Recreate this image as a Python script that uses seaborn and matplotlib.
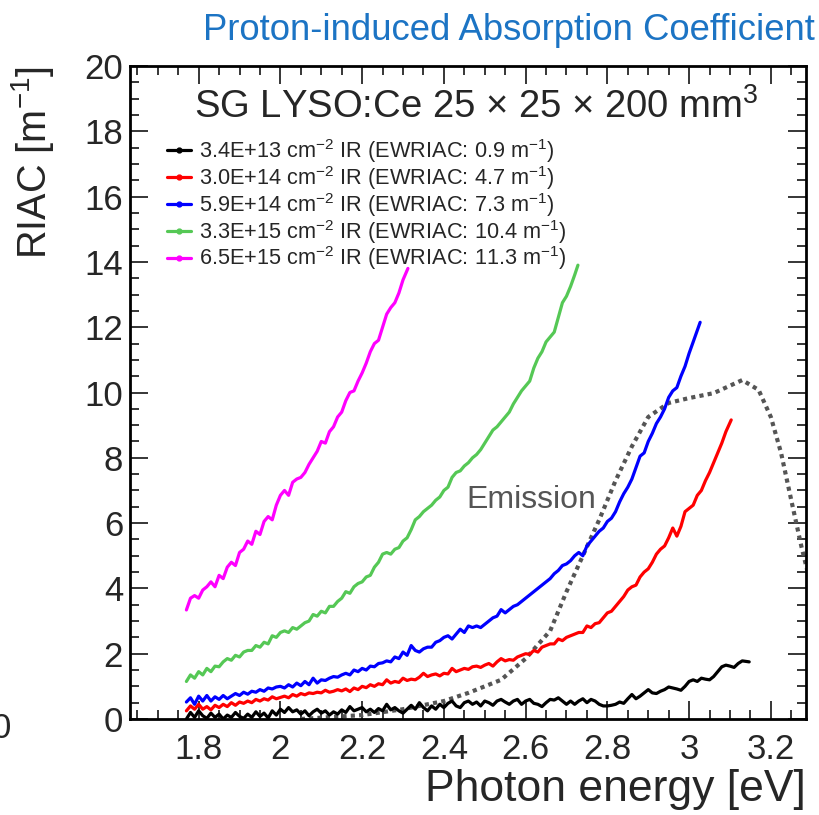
import numpy as np
import pandas as pd
import seaborn as sns
import matplotlib
matplotlib.use("Agg")
import matplotlib.pyplot as plt
from matplotlib.lines import Line2D
from matplotlib.ticker import MultipleLocator

# ---- data -------------------------------------------------------------
series_names = ["3.4E+13", "3.0E+14", "5.9E+14", "3.3E+15", "6.5E+15"]
ewriac = ["0.9", "4.7", "7.3", "10.4", "11.3"]
series_colors = ["#000000", "#ff0000", "#0000ff", "#55c855", "#ff00ff"]

e_black = [1.770, 1.780, 1.790, 1.800, 1.810, 1.820, 1.830, 1.840, 1.850, 1.860,
           1.870, 1.880, 1.890, 1.900, 1.910, 1.920, 1.930, 1.940, 1.950, 1.960,
           1.970, 1.980, 1.990, 2.000, 2.010, 2.020, 2.030, 2.040, 2.050, 2.060,
           2.070, 2.080, 2.090, 2.100, 2.110, 2.120, 2.130, 2.140, 2.150, 2.160,
           2.170, 2.180, 2.190, 2.200, 2.210, 2.220, 2.230, 2.240, 2.250, 2.260,
           2.270, 2.280, 2.290, 2.300, 2.310, 2.320, 2.330, 2.340, 2.350, 2.360,
           2.370, 2.380, 2.390, 2.400, 2.410, 2.420, 2.430, 2.440, 2.450, 2.460,
           2.470, 2.480, 2.490, 2.500, 2.510, 2.520, 2.530, 2.540, 2.550, 2.560,
           2.570, 2.580, 2.590, 2.600, 2.610, 2.620, 2.630, 2.640, 2.650, 2.660,
           2.670, 2.680, 2.690, 2.700, 2.710, 2.720, 2.730, 2.740, 2.750, 2.760,
           2.770, 2.780, 2.790, 2.800, 2.810, 2.820, 2.830, 2.840, 2.850, 2.860,
           2.870, 2.880, 2.890, 2.900, 2.910, 2.920, 2.930, 2.940, 2.950, 2.960,
           2.970, 2.980, 2.990, 3.000, 3.010, 3.020, 3.030, 3.040, 3.050, 3.060,
           3.070, 3.080, 3.090, 3.100, 3.110, 3.120, 3.130, 3.147]
riac_black = [0.00, 0.20, 0.05, 0.25, 0.10, 0.02, 0.18, 0.05, 0.15, 0.00,
              0.12, 0.05, 0.20, 0.08, 0.02, 0.15, 0.05, 0.22, 0.08, 0.18,
              0.03, 0.25, 0.12, 0.30, 0.20, 0.35, 0.22, 0.28, 0.15, 0.25,
              0.10, 0.22, 0.30, 0.18, 0.25, 0.12, 0.22, 0.15, 0.28, 0.20,
              0.38, 0.25, 0.30, 0.35, 0.22, 0.30, 0.20, 0.32, 0.25, 0.45,
              0.28, 0.35, 0.25, 0.18, 0.30, 0.42, 0.30, 0.50, 0.35, 0.25,
              0.40, 0.30, 0.45, 0.35, 0.48, 0.55, 0.40, 0.35, 0.50, 0.55,
              0.45, 0.52, 0.40, 0.55, 0.50, 0.42, 0.55, 0.60, 0.52, 0.45,
              0.55, 0.60, 0.45, 0.55, 0.60, 0.48, 0.45, 0.38, 0.50, 0.60,
              0.58, 0.65, 0.55, 0.45, 0.55, 0.45, 0.55, 0.62, 0.50, 0.60,
              0.55, 0.45, 0.40, 0.40, 0.42, 0.45, 0.52, 0.48, 0.62, 0.75,
              0.62, 0.70, 0.80, 0.90, 0.80, 0.78, 0.85, 0.90, 0.98, 0.95,
              0.92, 0.88, 1.00, 1.15, 1.20, 1.15, 1.25, 1.22, 1.20, 1.30,
              1.45, 1.60, 1.65, 1.62, 1.58, 1.70, 1.78, 1.75]

e_red = [1.77, 1.78, 1.79, 1.80, 1.81, 1.82, 1.83, 1.84, 1.85, 1.86,
         1.87, 1.88, 1.89, 1.90, 1.91, 1.92, 1.93, 1.94, 1.95, 1.96,
         1.97, 1.98, 1.99, 2.00, 2.01, 2.02, 2.03, 2.04, 2.05, 2.06,
         2.07, 2.08, 2.09, 2.10, 2.11, 2.12, 2.13, 2.14, 2.15, 2.16,
         2.17, 2.18, 2.19, 2.20, 2.21, 2.22, 2.23, 2.24, 2.25, 2.26,
         2.27, 2.28, 2.29, 2.30, 2.31, 2.32, 2.33, 2.34, 2.35, 2.36,
         2.37, 2.38, 2.39, 2.40, 2.41, 2.42, 2.43, 2.44, 2.45, 2.46,
         2.47, 2.48, 2.49, 2.50, 2.51, 2.52, 2.53, 2.54, 2.55, 2.56,
         2.57, 2.58, 2.59, 2.60, 2.61, 2.62, 2.63, 2.64, 2.65, 2.66,
         2.67, 2.68, 2.69, 2.70, 2.71, 2.72, 2.73, 2.74, 2.75, 2.76,
         2.77, 2.78, 2.79, 2.80, 2.81, 2.82, 2.83, 2.84, 2.85, 2.86,
         2.87, 2.88, 2.89, 2.90, 2.91, 2.92, 2.93, 2.94, 2.95, 2.96,
         2.97, 2.98, 2.99, 3.00, 3.01, 3.02, 3.03, 3.04, 3.05, 3.06,
         3.07, 3.08, 3.09, 3.103]
riac_red = [0.25, 0.40, 0.30, 0.45, 0.30, 0.38, 0.28, 0.42, 0.35, 0.45,
            0.38, 0.50, 0.42, 0.52, 0.48, 0.55, 0.50, 0.60, 0.55, 0.62,
            0.58, 0.68, 0.62, 0.66, 0.70, 0.65, 0.75, 0.70, 0.78, 0.74,
            0.80, 0.78, 0.82, 0.80, 0.88, 0.82, 0.85, 0.90, 0.86, 0.92,
            0.84, 0.95, 0.90, 1.00, 0.96, 1.05, 1.00, 1.08, 1.05, 1.20,
            1.10, 1.15, 1.12, 1.25, 1.18, 1.22, 1.20, 1.28, 1.40, 1.30,
            1.35, 1.38, 1.32, 1.40, 1.38, 1.55, 1.45, 1.50, 1.55, 1.52,
            1.60, 1.62, 1.58, 1.65, 1.70, 1.62, 1.75, 1.85, 1.78, 1.82,
            1.80, 1.90, 1.95, 2.00, 1.98, 2.10, 2.05, 2.20, 2.25, 2.30,
            2.30, 2.45, 2.40, 2.50, 2.55, 2.60, 2.65, 2.65, 2.85, 2.80,
            2.92, 2.95, 3.10, 3.25, 3.30, 3.45, 3.60, 3.75, 3.95, 4.05,
            4.10, 4.35, 4.50, 4.60, 4.80, 5.05, 5.20, 5.30, 5.55, 5.85,
            5.60, 5.90, 6.35, 6.45, 6.55, 6.85, 7.00, 7.30, 7.55, 7.85,
            8.15, 8.45, 8.80, 9.16]

e_blue = [1.77, 1.78, 1.79, 1.80, 1.81, 1.82, 1.83, 1.84, 1.85, 1.86,
          1.87, 1.88, 1.89, 1.90, 1.91, 1.92, 1.93, 1.94, 1.95, 1.96,
          1.97, 1.98, 1.99, 2.00, 2.01, 2.02, 2.03, 2.04, 2.05, 2.06,
          2.07, 2.08, 2.09, 2.10, 2.11, 2.12, 2.13, 2.14, 2.15, 2.16,
          2.17, 2.18, 2.19, 2.20, 2.21, 2.22, 2.23, 2.24, 2.25, 2.26,
          2.27, 2.28, 2.29, 2.30, 2.31, 2.32, 2.33, 2.34, 2.35, 2.36,
          2.37, 2.38, 2.39, 2.40, 2.41, 2.42, 2.43, 2.44, 2.45, 2.46,
          2.47, 2.48, 2.49, 2.50, 2.51, 2.52, 2.53, 2.54, 2.55, 2.56,
          2.57, 2.58, 2.59, 2.60, 2.61, 2.62, 2.63, 2.64, 2.65, 2.66,
          2.67, 2.68, 2.69, 2.70, 2.71, 2.72, 2.73, 2.74, 2.75, 2.76,
          2.77, 2.78, 2.79, 2.80, 2.81, 2.82, 2.83, 2.84, 2.85, 2.86,
          2.87, 2.88, 2.89, 2.90, 2.91, 2.92, 2.93, 2.94, 2.95, 2.96,
          2.97, 2.98, 2.99, 3.00, 3.01, 3.027]
riac_blue = [0.52, 0.65, 0.45, 0.70, 0.55, 0.72, 0.55, 0.68, 0.60, 0.72,
             0.62, 0.70, 0.78, 0.72, 0.82, 0.76, 0.85, 0.82, 0.90, 0.85,
             0.95, 0.92, 0.98, 1.00, 0.95, 1.05, 0.98, 1.10, 1.02, 1.15,
             1.05, 1.25, 1.10, 1.20, 1.18, 1.25, 1.30, 1.28, 1.35, 1.40,
             1.35, 1.50, 1.45, 1.55, 1.50, 1.62, 1.60, 1.70, 1.72, 1.78,
             1.75, 1.90, 1.85, 2.05, 1.95, 2.25, 2.10, 2.05, 2.15, 2.20,
             2.20, 2.35, 2.40, 2.50, 2.55, 2.45, 2.60, 2.75, 2.65, 2.85,
             2.80, 2.85, 2.80, 2.90, 3.00, 3.10, 3.15, 3.35, 3.25, 3.35,
             3.45, 3.50, 3.60, 3.70, 3.80, 3.90, 4.00, 4.10, 4.20, 4.30,
             4.45, 4.55, 4.70, 4.75, 4.85, 5.00, 5.10, 5.00, 5.30, 5.45,
             5.60, 5.75, 5.85, 6.05, 6.15, 6.35, 6.65, 6.90, 7.10, 7.35,
             7.70, 8.05, 8.15, 8.50, 8.75, 9.05, 9.25, 9.50, 9.85, 10.05,
             10.15, 10.50, 10.80, 11.20, 11.55, 12.15]

e_green = [1.77, 1.78, 1.79, 1.80, 1.81, 1.82, 1.83, 1.84, 1.85, 1.86,
           1.87, 1.88, 1.89, 1.90, 1.91, 1.92, 1.93, 1.94, 1.95, 1.96,
           1.97, 1.98, 1.99, 2.00, 2.01, 2.02, 2.03, 2.04, 2.05, 2.06,
           2.07, 2.08, 2.09, 2.10, 2.11, 2.12, 2.13, 2.14, 2.15, 2.16,
           2.17, 2.18, 2.19, 2.20, 2.21, 2.22, 2.23, 2.24, 2.25, 2.26,
           2.27, 2.28, 2.29, 2.30, 2.31, 2.32, 2.33, 2.34, 2.35, 2.36,
           2.37, 2.38, 2.39, 2.40, 2.41, 2.42, 2.43, 2.44, 2.45, 2.46,
           2.47, 2.48, 2.49, 2.50, 2.51, 2.52, 2.53, 2.54, 2.55, 2.56,
           2.57, 2.58, 2.59, 2.60, 2.61, 2.62, 2.63, 2.64, 2.65, 2.66,
           2.67, 2.68, 2.69, 2.70, 2.71, 2.72, 2.728]
riac_green = [1.15, 1.35, 1.25, 1.45, 1.35, 1.55, 1.45, 1.62, 1.60, 1.75,
              1.85, 1.80, 1.95, 1.90, 2.05, 2.10, 2.10, 2.25, 2.20, 2.35,
              2.30, 2.55, 2.50, 2.65, 2.70, 2.65, 2.80, 2.75, 2.85, 2.95,
              3.00, 3.20, 3.15, 3.30, 3.25, 3.45, 3.45, 3.60, 3.70, 3.90,
              3.85, 4.05, 4.15, 4.20, 4.35, 4.40, 4.65, 4.80, 5.05, 5.10,
              5.05, 5.20, 5.25, 5.45, 5.55, 5.80, 6.10, 6.20, 6.35, 6.45,
              6.55, 6.70, 6.80, 7.00, 7.10, 7.40, 7.55, 7.60, 7.75, 7.85,
              8.00, 8.10, 8.25, 8.45, 8.65, 8.85, 8.95, 9.10, 9.25, 9.40,
              9.65, 9.85, 10.05, 10.20, 10.35, 10.75, 11.05, 11.25, 11.55, 11.70,
              11.85, 12.30, 12.75, 12.95, 13.25, 13.60, 13.90]

e_magenta = [1.770, 1.780, 1.790, 1.800, 1.810, 1.820, 1.830, 1.840, 1.850, 1.860,
             1.870, 1.880, 1.890, 1.900, 1.910, 1.920, 1.930, 1.940, 1.950, 1.960,
             1.970, 1.980, 1.990, 2.000, 2.010, 2.020, 2.030, 2.040, 2.050, 2.060,
             2.070, 2.080, 2.090, 2.100, 2.110, 2.120, 2.130, 2.140, 2.150, 2.160,
             2.170, 2.180, 2.190, 2.200, 2.210, 2.220, 2.230, 2.240, 2.250, 2.260,
             2.270, 2.280, 2.290, 2.300, 2.312]
riac_magenta = [3.34, 3.70, 3.78, 3.70, 3.95, 4.05, 4.20, 4.05, 4.40, 4.30,
                4.65, 4.80, 4.70, 5.10, 5.20, 5.45, 5.35, 5.75, 5.65, 6.05,
                6.20, 6.10, 6.55, 6.85, 7.00, 6.85, 7.25, 7.35, 7.40, 7.55,
                7.80, 8.00, 8.20, 8.50, 8.45, 8.80, 8.95, 9.25, 9.40, 9.75,
                10.00, 10.05, 10.35, 10.60, 10.90, 11.25, 11.50, 11.60, 12.00, 12.40,
                12.60, 12.75, 13.05, 13.45, 13.80]

# scintillation emission spectrum (arbitrary scale)
e_emission = [2.05, 2.20, 2.30, 2.40, 2.46, 2.54, 2.60, 2.66, 2.70, 2.74,
              2.78, 2.82, 2.86, 2.90, 2.95, 3.00, 3.06, 3.13, 3.17, 3.20,
              3.225, 3.25, 3.275, 3.30]
emission = [0.00, 0.12, 0.30, 0.55, 0.80, 1.20, 1.85, 2.70, 3.90, 5.00,
            6.10, 7.30, 8.35, 9.25, 9.68, 9.83, 9.98, 10.38, 10.08, 9.25,
            8.15, 6.70, 5.27, 4.00]

energies = [e_black, e_red, e_blue, e_green, e_magenta]
riacs = [riac_black, riac_red, riac_blue, riac_green, riac_magenta]

frames = []
for name, e, r in zip(series_names, energies, riacs):
    frames.append(pd.DataFrame({"energy": e, "riac": r, "fluence": name}))
df = pd.concat(frames, ignore_index=True)
df_em = pd.DataFrame({"energy": e_emission, "value": emission})

# ---- style ------------------------------------------------------------
sns.set_theme(style="ticks")
FONT = ["Liberation Sans", "DejaVu Sans"]
plt.rcParams["font.family"] = FONT
plt.rcParams["mathtext.fontset"] = "custom"
plt.rcParams["mathtext.rm"] = "Liberation Sans"
plt.rcParams["mathtext.it"] = "Liberation Sans:italic"
plt.rcParams["mathtext.bf"] = "Liberation Sans:bold"

fig = plt.figure(figsize=(8.19, 8.15), dpi=100)
ax = fig.add_axes([130 / 819, 1 - 719 / 815, 676 / 819, 653 / 815])

sns.lineplot(data=df_em, x="energy", y="value", ax=ax, color="#555555",
             linewidth=3.0, linestyle=(0, (1.0, 1.0)), sort=False,
             estimator=None, legend=False)

palette = dict(zip(series_names, series_colors))
sns.lineplot(data=df, x="energy", y="riac", hue="fluence", palette=palette,
             hue_order=series_names, ax=ax, linewidth=2.3, sort=False,
             estimator=None, legend=False)

ax.set_xlim(1.632, 3.286)
ax.set_ylim(0, 20)

# ROOT-like frame: inward ticks on all four sides
ax.xaxis.set_major_locator(MultipleLocator(0.2))
ax.xaxis.set_minor_locator(MultipleLocator(0.05))
ax.yaxis.set_major_locator(MultipleLocator(2))
ax.yaxis.set_minor_locator(MultipleLocator(0.5))
ax.tick_params(which="both", direction="in", top=True, right=True,
               color="black", width=1.1)
ax.tick_params(which="major", length=13)
ax.tick_params(which="minor", length=6.5)
ax.tick_params(axis="x", which="major", labelsize=25, pad=10)
ax.tick_params(axis="y", which="major", labelsize=25, pad=5)
ax.xaxis.set_major_formatter(matplotlib.ticker.FuncFormatter(lambda v, p: f"{v:g}"))
for s in ax.spines.values():
    s.set_linewidth(2.0)
    s.set_color("black")

ax.set_xlabel("Photon energy [eV]", fontsize=32, loc="right")
ax.xaxis.set_label_coords(1.0, -0.077)
ax.set_ylabel("RIAC [m$^{-1}$]", fontsize=28.5, loc="top")
ax.yaxis.set_label_coords(-0.11, 1.0)

# legend with small point markers on the line handles
handles = [Line2D([0], [0], color=c, linewidth=2.3, marker="o", markersize=3.5)
           for c in series_colors]
labels = [f"{n} cm$^{{-2}}$ IR (EWRIAC: {w} m$^{{-1}}$)"
          for n, w in zip(series_names, ewriac)]
ax.legend(handles, labels, loc="upper left", bbox_to_anchor=(0.055, 0.891),
          frameon=False, fontsize=15.7, handlelength=1.1, handletextpad=0.35,
          labelspacing=-0.05, borderpad=0, borderaxespad=0)

ax.text(0.513, 0.937, "SG LYSO:Ce 25 × 25 × 200 mm$^{3}$", transform=ax.transAxes,
        ha="center", va="center", fontsize=27.5)
ax.text(0.593, 0.335, "Emission", transform=ax.transAxes, ha="center",
        va="center", fontsize=23, color="#555555")

fig.text(815 / 819, 1 - 30 / 815, "Proton-induced Absorption Coefficient",
         ha="right", va="center", fontsize=26.3, color="#1c74c4")
fig.text(1 / 819, 1 - 728 / 815, "0", ha="center", va="center", fontsize=25)

fig.savefig("out.png", dpi=100)
